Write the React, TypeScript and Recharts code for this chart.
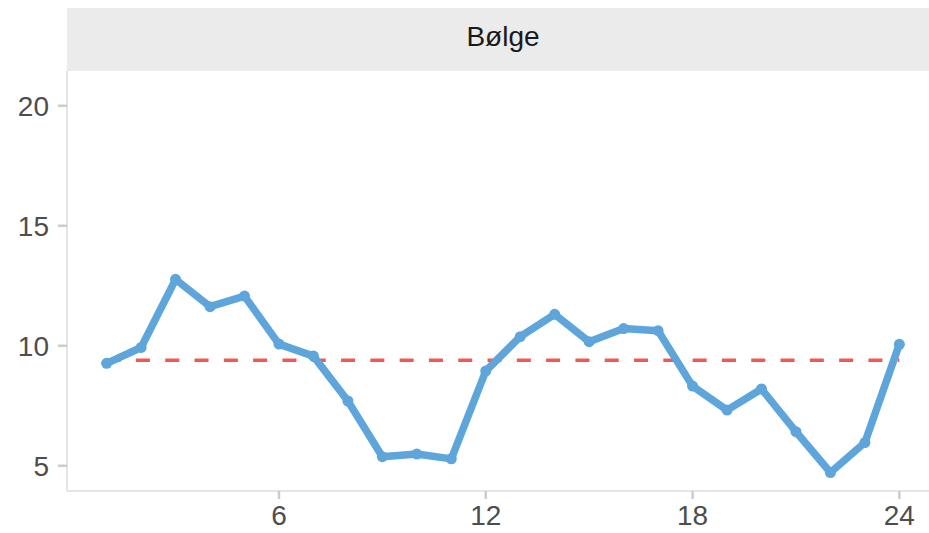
import { Line, LineChart, XAxis, YAxis } from "recharts";

const steps = [1, 2, 3, 4, 5, 6, 7, 8, 9, 10, 11, 12, 13, 14, 15, 16, 17, 18, 19, 20, 21, 22, 23, 24];
const wave = [
  9.27, 9.93, 12.77, 11.63, 12.07, 10.07, 9.57, 7.7, 5.38, 5.49, 5.29, 8.95,
  10.38, 11.31, 10.17, 10.72, 10.63, 8.32, 7.32, 8.2, 6.42, 4.72, 5.97, 10.06
];
const levelSpan = [1, 24];
const level = 9.4;
const xTicks = [6, 12, 18, 24];
const yTicks = [5, 10, 15, 20];
const panelTitle = "Bølge";

const data = steps.map((x, i) => ({ x, value: wave[i] }));
const levelData = levelSpan.map((x) => ({ x, level }));

const font = "'Liberation Sans', Arial, Helvetica, sans-serif";
const tickStyle = { fill: "#4d4d4d", fontSize: 28, fontFamily: font };

export default function App() {
  return (
    <div style={{ position: "absolute", left: 0, top: 0, width: 929, height: 533, overflow: "hidden", background: "#fff" }}>
      <div
        style={{
          position: "absolute",
          left: 67,
          top: 8,
          width: 872,
          height: 63,
          background: "#ebebeb"
        }}
      />
      <div
        style={{
          position: "absolute",
          left: 67,
          top: 21,
          width: 872,
          textAlign: "center",
          fontFamily: font,
          fontSize: 28,
          lineHeight: "normal",
          color: "#1a1a1a"
        }}
      >
        {panelTitle}
      </div>
      <div style={{ position: "absolute", left: 0, top: 0 }}>
        <LineChart width={939} height={533} data={data} margin={{ top: 71, right: 0, bottom: 0, left: 0 }}>
          <XAxis
            dataKey="x"
            type="number"
            domain={[-0.15, 25.15]}
            ticks={xTicks}
            allowDataOverflow
            height={42}
            tick={tickStyle}
            tickSize={8}
            tickMargin={6}
            axisLine={{ stroke: "#e5e5e5", strokeWidth: 2 }}
            tickLine={{ stroke: "#cccccc", strokeWidth: 2.5 }}
          />
          <YAxis
            type="number"
            domain={[3.95, 21.45]}
            ticks={yTicks}
            allowDataOverflow
            width={67}
            tick={tickStyle}
            tickSize={9}
            tickMargin={9}
            axisLine={{ stroke: "#e5e5e5", strokeWidth: 2 }}
            tickLine={{ stroke: "#cccccc", strokeWidth: 2.5 }}
          />
          <Line
            data={levelData}
            dataKey="level"
            type="linear"
            stroke="#F15854"
            strokeWidth={3.5}
            strokeDasharray="14 15.3"
            dot={false}
            activeDot={false}
            isAnimationActive={false}
          />
          <Line
            dataKey="value"
            type="linear"
            stroke="#5DA5DA"
            strokeWidth={7.5}
            strokeLinejoin="round"
            dot={{ r: 5.5, fill: "#5DA5DA", stroke: "none" }}
            activeDot={false}
            isAnimationActive={false}
          />
        </LineChart>
      </div>
    </div>
  );
}
